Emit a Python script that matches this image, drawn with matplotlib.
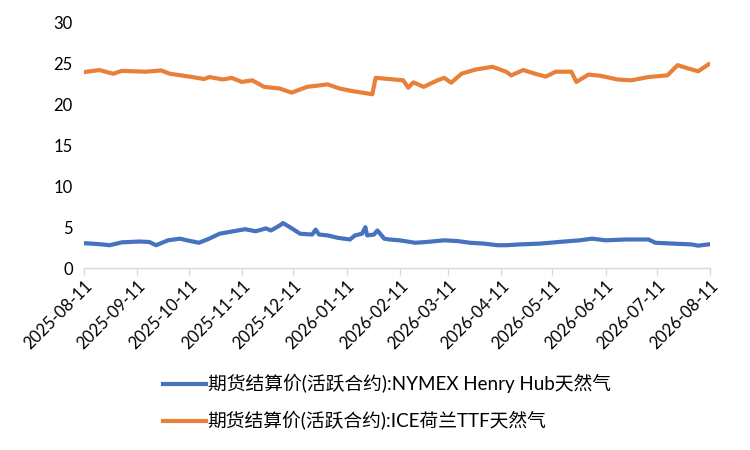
import matplotlib
matplotlib.use("Agg")
import matplotlib.pyplot as plt
import matplotlib.dates as mdates
import pandas as pd

plt.rcParams['font.family'] = ['Lato', 'Noto Sans CJK SC', 'DejaVu Sans']

# NYMEX Henry Hub (blue)
hh_dates = ['2025-08-11', '2025-08-20', '2025-08-26', '2025-09-02', '2025-09-12',
            '2025-09-18', '2025-09-22', '2025-09-29', '2025-10-06', '2025-10-10',
            '2025-10-17', '2025-10-23', '2025-10-29', '2025-11-06', '2025-11-13',
            '2025-11-19', '2025-11-25', '2025-11-28', '2025-12-03', '2025-12-05',
            '2025-12-09', '2025-12-15', '2025-12-22', '2025-12-24', '2025-12-26',
            '2025-12-31', '2026-01-06', '2026-01-13', '2026-01-16', '2026-01-20',
            '2026-01-22', '2026-01-23', '2026-01-27', '2026-01-29', '2026-02-02',
            '2026-02-05', '2026-02-11', '2026-02-20', '2026-02-27', '2026-03-09',
            '2026-03-17', '2026-03-24', '2026-04-01', '2026-04-09', '2026-04-14',
            '2026-04-22', '2026-05-04', '2026-05-15', '2026-05-27', '2026-06-03',
            '2026-06-11', '2026-06-23', '2026-07-06', '2026-07-10', '2026-07-20',
            '2026-07-31', '2026-08-04', '2026-08-10']
hh_vals = [3.05, 2.93, 2.8, 3.15, 3.25,
           3.2, 2.8, 3.4, 3.6, 3.4,
           3.1, 3.6, 4.2, 4.5, 4.75,
           4.5, 4.85, 4.6, 5.2, 5.5,
           5.0, 4.2, 4.1, 4.7, 4.1,
           4.0, 3.7, 3.5, 4.0, 4.2,
           5.0, 4.0, 4.1, 4.6, 3.6,
           3.5, 3.4, 3.1, 3.2, 3.4,
           3.3, 3.1, 3.0, 2.8, 2.8,
           2.9, 3.0, 3.2, 3.4, 3.6,
           3.4, 3.5, 3.5, 3.1, 3.0,
           2.9, 2.75, 2.9]

# ICE TTF (orange)
ttf_dates = ['2025-08-11', '2025-08-20', '2025-08-28', '2025-09-02', '2025-09-16',
             '2025-09-25', '2025-09-30', '2025-10-13', '2025-10-20', '2025-10-23',
             '2025-10-31', '2025-11-05', '2025-11-11', '2025-11-17', '2025-11-24',
             '2025-12-03', '2025-12-10', '2025-12-19', '2025-12-31', '2026-01-07',
             '2026-01-14', '2026-01-26', '2026-01-28', '2026-02-05', '2026-02-13',
             '2026-02-16', '2026-02-19', '2026-02-25', '2026-03-05', '2026-03-09',
             '2026-03-13', '2026-03-19', '2026-03-27', '2026-04-06', '2026-04-14',
             '2026-04-17', '2026-04-24', '2026-05-01', '2026-05-07', '2026-05-13',
             '2026-05-22', '2026-05-25', '2026-06-01', '2026-06-08', '2026-06-18',
             '2026-06-26', '2026-07-06', '2026-07-17', '2026-07-23', '2026-07-29',
             '2026-08-04', '2026-08-10']
ttf_vals = [23.9, 24.15, 23.7, 24.05, 23.95,
            24.1, 23.7, 23.3, 23.05, 23.3,
            23.0, 23.2, 22.7, 22.9, 22.1,
            21.9, 21.4, 22.1, 22.4, 21.9,
            21.6, 21.2, 23.2, 23.05, 22.9,
            22.0, 22.65, 22.1, 22.9, 23.2,
            22.6, 23.7, 24.2, 24.55, 23.95,
            23.5, 24.15, 23.7, 23.35, 23.95,
            23.95, 22.7, 23.6, 23.45, 23.0,
            22.9, 23.3, 23.5, 24.75, 24.35,
            24.0, 24.85]

tick_dates = ['2025-08-11', '2025-09-11', '2025-10-11', '2025-11-11', '2025-12-11',
              '2026-01-11', '2026-02-11', '2026-03-11', '2026-04-11', '2026-05-11',
              '2026-06-11', '2026-07-11', '2026-08-11']

hh_label = '期货结算价(活跃合约):NYMEX Henry Hub天然气'
ttf_label = '期货结算价(活跃合约):ICE荷兰TTF天然气'

fig = plt.figure(figsize=(7.5, 4.5), dpi=100)
ax = fig.add_axes([0.112, 0.404, 0.835, 0.547])

ax.plot(pd.to_datetime(hh_dates), hh_vals, color='#4672C0', lw=3.0, label=hh_label)
ax.plot(pd.to_datetime(ttf_dates), ttf_vals, color='#E9803A', lw=3.0, label=ttf_label)

ticks = pd.to_datetime(tick_dates)
ax.set_xlim(ticks[0], ticks[-1])
ax.set_xticks(ticks)
ax.xaxis.set_major_formatter(mdates.DateFormatter('%Y-%m-%d'))
ax.set_ylim(0, 30)
ax.set_yticks(range(0, 31, 5))

for s in ['top', 'right', 'left']:
    ax.spines[s].set_visible(False)
ax.spines['bottom'].set_color('#D9D9D9')
ax.spines['bottom'].set_linewidth(1.0)
ax.tick_params(axis='x', colors='#D9D9D9', length=5, width=1.0, labelcolor='#000000',
               labelsize=12, pad=2)
ax.tick_params(axis='y', length=0, labelsize=12, pad=8)
for lab in ax.get_xticklabels():
    lab.set_rotation(45)
    lab.set_ha('right')
    lab.set_rotation_mode('anchor')

fig.legend(loc='center left', bbox_to_anchor=(0.217, 0.106), frameon=False,
           fontsize=13.5, handlelength=2.3, handletextpad=0.1, labelspacing=0.95,
           borderpad=0, borderaxespad=0)

fig.savefig('out.png', dpi=100)
